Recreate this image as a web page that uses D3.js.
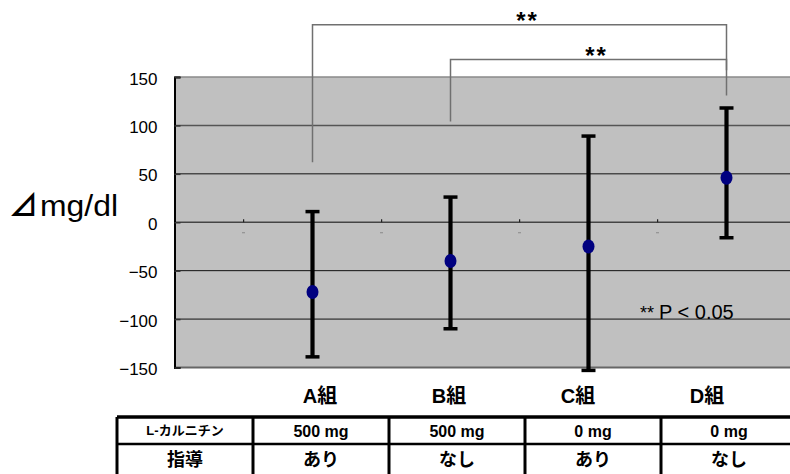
<!DOCTYPE html>
<html><head><meta charset="utf-8">
<script src="https://cdn.jsdelivr.net/npm/d3@7"></script>
<style>body{margin:0;background:#fff}svg{display:block}</style>
</head><body>
<svg id="c" width="790" height="474"></svg>
<script>
// ---- data ----
const categories = ["A組", "B組", "C組", "D組"];
const catPos = [2, 4, 6, 8];            // category slots on the x axis
const dashPos = [1, 3, 5, 7];           // empty slots between categories
const means = [-72, -40, -25, 46];
const upper = [11, 26, 89, 118];
const lower = [-139, -110, -153, -16];
const yTicks = [150, 100, 50, 0, -50, -100, -150];
const yTickLabels = ["150", "100", "50", "0", "−50", "−100", "−150"];
const rowHeaders = ["L-カルニチン", "指導"];
const carnitine = ["500 mg", "500 mg", "0 mg", "0 mg"];
const guidance = ["あり", "なし", "あり", "なし"];
const brackets = [
  {from: 0, to: 3, top: 204, leftEnd: 62, rightEnd: 157, label: "**"},
  {from: 1, to: 3, top: 168, leftEnd: 104, rightEnd: 131, label: "**"}
];
const yLabel = "mg/dl";
const note = "P < 0.05";

// ---- layout ----
const svg = d3.select("#c");
const plotL = 174.5, plotR = 792, plotT = 77, plotB = 367.5;
const x = d3.scaleLinear().domain([0, 8]).range([plotL, 726.5]);
const y = d3.scaleLinear().domain([-150, 150]).range([plotB, plotT]);
const latin = "'Liberation Sans', Arial, sans-serif";
const jp = "'Liberation Sans', 'Noto Sans CJK JP', sans-serif";

// plot background
svg.append("rect").attr("x", plotL).attr("y", plotT)
  .attr("width", plotR - plotL).attr("height", plotB - plotT).attr("fill", "#c0c0c0");

// gridlines
const gridStyle = {150: ["#8a8a8a", 1.5], 100: ["#555", 1.5], 50: ["#111", 1], 0: ["#444", 1.5],
  "-50": ["#111", 1], "-100": ["#111", 1], "-150": ["#666", 2]};
svg.append("g").selectAll("line").data(yTicks).join("line")
  .attr("x1", plotL).attr("x2", plotR)
  .attr("y1", d => y(d)).attr("y2", d => y(d))
  .attr("stroke", d => gridStyle[d][0]).attr("stroke-width", d => gridStyle[d][1]);

// y axis
const yAxis = d3.axisLeft(y).tickValues(yTicks).tickSize(-6).tickPadding(17)
  .tickFormat((d, i) => yTickLabels[i]);
const gy = svg.append("g").attr("transform", `translate(${plotL},0)`).call(yAxis);
gy.select(".domain").attr("stroke", "#000").attr("stroke-width", 2);
gy.selectAll(".tick line").attr("stroke", "#333").attr("stroke-width", 1.5);
gy.selectAll(".tick text").attr("font-family", latin).attr("font-size", 17)
  .attr("fill", "#000").attr("dy", "0.42em");

// tiny marks in the empty slots
svg.append("g").selectAll("rect").data(dashPos).join("rect")
  .attr("x", d => x(d) - 0.5).attr("y", y(0) - 3).attr("width", 1.2).attr("height", 3).attr("fill", "#222");
svg.append("g").selectAll("rect").data(dashPos).join("rect")
  .attr("x", d => x(d) - 1.5).attr("y", y(0) + 10).attr("width", 3).attr("height", 1).attr("fill", "#888");

// error bars
const eb = svg.append("g");
eb.selectAll("line.v").data(categories).join("line").attr("class", "v")
  .attr("x1", (d, i) => x(catPos[i])).attr("x2", (d, i) => x(catPos[i]))
  .attr("y1", (d, i) => y(upper[i])).attr("y2", (d, i) => y(lower[i]))
  .attr("stroke", "#000").attr("stroke-width", 4.2);
const caps = categories.flatMap((d, i) => [{i, v: upper[i]}, {i, v: lower[i]}]);
eb.selectAll("line.cap").data(caps).join("line").attr("class", "cap")
  .attr("x1", d => x(catPos[d.i]) - 7).attr("x2", d => x(catPos[d.i]) + 7)
  .attr("y1", d => y(d.v)).attr("y2", d => y(d.v))
  .attr("stroke", "#000").attr("stroke-width", 3.5);

// mean markers
svg.append("g").selectAll("ellipse").data(means).join("ellipse")
  .attr("cx", (d, i) => x(catPos[i])).attr("cy", d => y(d))
  .attr("rx", 6).attr("ry", 7).attr("fill", "#000080");

// significance brackets
const bg = svg.append("g");
brackets.forEach(b => {
  const x1 = x(catPos[b.from]), x2 = x(catPos[b.to]);
  bg.append("path")
    .attr("d", `M${x1},${y(b.leftEnd)}V${y(b.top)}H${x2}V${y(b.rightEnd)}`)
    .attr("fill", "none").attr("stroke", "#707070").attr("stroke-width", 1.5);
  bg.append("text").attr("x", (x1 + x2) / 2 + 8).attr("y", y(b.top) + 4)
    .attr("text-anchor", "middle").attr("font-family", latin).attr("font-weight", "bold")
    .attr("font-size", 24).attr("letter-spacing", 2).text(b.label);
});

// note
const nt = svg.append("text").attr("x", 640).attr("y", y(-100) - 0.5)
  .attr("font-family", latin).attr("fill", "#000");
nt.append("tspan").attr("font-size", 18).text("**");
nt.append("tspan").attr("font-size", 20).attr("dx", 5).text(note);

// y label
svg.append("text").attr("x", 9).attr("y", 216).attr("font-family", "'Noto Sans CJK JP', sans-serif")
  .attr("font-size", 29).attr("font-weight", "bold").text("⊿");
svg.append("text").attr("x", 40).attr("y", 216).attr("font-family", latin)
  .attr("font-size", 29).attr("textLength", 78).attr("lengthAdjust", "spacingAndGlyphs").text(yLabel);

// category labels
const lx = d3.scaleLinear().domain([0, 3]).range([320, 707]);
svg.append("g").selectAll("text").data(categories).join("text")
  .attr("x", (d, i) => lx(i)).attr("y", 403).attr("text-anchor", "middle")
  .attr("font-family", jp).attr("font-weight", "bold").attr("font-size", 20).text(d => d);

// table
const colX = d3.scaleLinear().domain([0, 1]).range([117, 253]);
const tTop = 417, tMid = 444, tBot = 476;
const tg = svg.append("g");
tg.append("line").attr("x1", colX(0)).attr("x2", 790).attr("y1", tTop).attr("y2", tTop)
  .attr("stroke", "#000").attr("stroke-width", 3.5);
tg.append("line").attr("x1", colX(0)).attr("x2", 790).attr("y1", tMid).attr("y2", tMid)
  .attr("stroke", "#000").attr("stroke-width", 2.5);
tg.selectAll("line.col").data(d3.range(5)).join("line").attr("class", "col")
  .attr("x1", d => colX(d)).attr("x2", d => colX(d)).attr("y1", tTop).attr("y2", tBot)
  .attr("stroke", "#000").attr("stroke-width", 3);
tg.append("text").attr("x", colX(0.5)).attr("y", 435).attr("text-anchor", "middle")
  .attr("font-family", jp).attr("font-weight", "bold").attr("font-size", 13).text(rowHeaders[0]);
tg.append("text").attr("x", colX(0.5)).attr("y", 466).attr("text-anchor", "middle")
  .attr("font-family", jp).attr("font-weight", "bold").attr("font-size", 18).text(rowHeaders[1]);
tg.selectAll("text.r1").data(carnitine).join("text").attr("class", "r1")
  .attr("x", (d, i) => colX(i + 1.5)).attr("y", 437).attr("text-anchor", "middle")
  .attr("font-family", latin).attr("font-weight", "bold").attr("font-size", 16).text(d => d);
tg.selectAll("text.r2").data(guidance).join("text").attr("class", "r2")
  .attr("x", (d, i) => colX(i + 1.5)).attr("y", 466).attr("text-anchor", "middle")
  .attr("font-family", jp).attr("font-weight", "bold").attr("font-size", 18).text(d => d);
</script>
</body></html>
